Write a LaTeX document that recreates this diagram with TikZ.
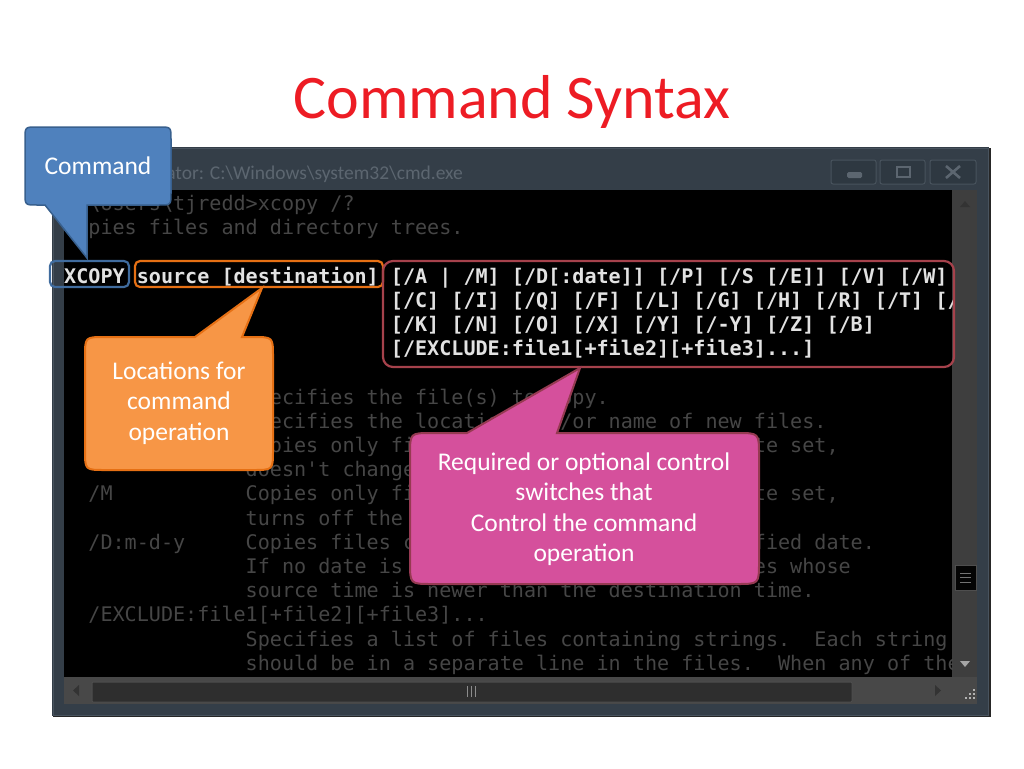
\documentclass[tikz,border=0pt]{standalone}
\usepackage{fontspec}
\setmainfont{Carlito}
\newfontfamily\consfont{DejaVu Sans Mono}
\definecolor{titlered}{RGB}{237,28,36}
\definecolor{framecol}{RGB}{52,62,72}
\definecolor{framehi}{RGB}{72,83,94}
\definecolor{titlegrey}{RGB}{92,102,112}
\definecolor{btnfill}{RGB}{46,56,65}
\definecolor{btnline}{RGB}{72,83,93}
\definecolor{btnicon}{RGB}{92,102,112}
\definecolor{scrollbg}{RGB}{62,62,62}
\definecolor{thumbcol}{RGB}{46,46,46}
\definecolor{thumbline}{RGB}{78,78,78}
\definecolor{dimtext}{RGB}{70,70,70}
\definecolor{britetext}{RGB}{226,226,226}
\definecolor{cblue}{RGB}{79,129,189}
\definecolor{cblueb}{RGB}{56,96,142}
\definecolor{hlblue}{RGB}{64,108,158}
\definecolor{corange}{RGB}{247,150,70}
\definecolor{coranged}{RGB}{230,112,20}
\definecolor{cmag}{RGB}{213,80,156}
\definecolor{cmagb}{RGB}{150,58,82}
\definecolor{swbox}{RGB}{166,66,76}
\newcommand\conline[5]{\node[#4] (#1) at ({64+12.1*#3},{210.4+24.2*(#2-1)}) {#5};}
\begin{document}
\begin{tikzpicture}[x=1pt,y=-1pt,
  dim/.style={anchor=base west, inner sep=0pt, text=dimtext, font=\consfont\fontsize{20.1}{24}\selectfont\frenchspacing},
  brite/.style={anchor=base west, inner sep=0pt, text=britetext, font=\consfont\bfseries\fontsize{20.1}{24}\selectfont\frenchspacing},
  callouttext/.style={text=white, align=center, inner sep=0pt, font=\fontsize{25.5}{30.5}\selectfont},
  hlbox/.style={line width=2.2pt, rounded corners=5pt},
  btn/.style={fill=btnfill, draw=btnline, line width=1pt, rounded corners=2pt}]
\useasboundingbox (0,0) rectangle (1024,768);
\fill[white] (0,0) rectangle (1024,768);
% title
\node[anchor=base, inner sep=0pt, text=titlered, font=\fontsize{62}{70}\selectfont] (title) at (512,118) {Command Syntax};
% window frame
\fill[black!85] (53,148) rectangle (991,717);
\fill[framecol] (52,147) rectangle (989,716);
\draw[framehi, line width=1pt] (53,148) rectangle (988,715);
\node[anchor=base east, inner sep=0pt, text=titlegrey, font=\fontsize{19.5}{22}\selectfont] (wintitle) at (463,179) {ator: C:\textbackslash Windows\textbackslash system32\textbackslash cmd.exe};
% title buttons
\draw[btn] (831,160) rectangle (876,184);
\draw[btn] (880,160) rectangle (925,184);
\draw[btn] (930,160) rectangle (976,184);
\fill[btnicon, rounded corners=1.5pt] (847,172) rectangle (862,178);
\draw[btnicon, line width=2pt] (897,167) rectangle (910,177);
\draw[btnicon, line width=2.6pt] (946,166) -- (960,178) (946,178) -- (960,166);
% console
\fill[black] (64,190) rectangle (952,677);
% vertical scrollbar
\fill[scrollbg] (952,190) rectangle (977,677);
\fill[black!80] (960,207) -- (970,207) -- (965,201) -- cycle;
\fill[black!35] (960,661) -- (970,661) -- (965,667) -- cycle;
\draw[thumbline, fill=thumbcol!120, line width=1pt] (955,565) rectangle (976,590);
\draw[black!55, line width=1pt] (960,573) -- (971,573) (960,577.5) -- (971,577.5) (960,582) -- (971,582);
% horizontal scrollbar
\fill[scrollbg!95] (64,677) rectangle (977,704);
\draw[thumbline, fill=thumbcol, line width=1pt, rounded corners=1pt] (92,682) rectangle (852,702);
\draw[black!45, line width=1pt] (467,686) -- (467,697) (471,686) -- (471,697) (475,686) -- (475,697);
\fill[black!80] (79,685) -- (79,696) -- (73,690.5) -- cycle;
\fill[black!80] (935,685) -- (935,696) -- (941,690.5) -- cycle;
\foreach \gx/\gy in {973/689, 969/693, 973/693, 965/697, 969/697, 973/697}
  \fill[black!30] (\gx,\gy) rectangle ++(2,2);
% console text
\begin{scope}
\clip (64,190) rectangle (952,677);
\conline{l1}{1}{0}{dim}{C:\textbackslash Users\textbackslash tjredd>xcopy /?}
\conline{l2}{2}{0}{dim}{Copies files and directory trees.}
\conline{l4a}{4}{0}{brite}{XCOPY}
\conline{l4b}{4}{6}{brite}{source [destination]}
\conline{l4c}{4}{27}{brite}{[/A | /M] [/D[:date]] [/P] [/S [/E]] [/V] [/W]}
\conline{l5}{5}{27}{brite}{[/C] [/I] [/Q] [/F] [/L] [/G] [/H] [/R] [/T] [/U]}
\conline{l6}{6}{27}{brite}{[/K] [/N] [/O] [/X] [/Y] [/-Y] [/Z] [/B]}
\conline{l7}{7}{27}{brite}{[/EXCLUDE:file1[+file2][+file3]...]}
\conline{l9}{9}{17}{dim}{ecifies the file(s) to copy.}
\conline{l10}{10}{17}{dim}{ecifies the location and/or name of new files.}
\conline{l11a}{11}{17}{dim}{pies only fi}
\conline{l11b}{11}{57}{dim}{te set,}
\conline{l12}{12}{15}{dim}{doesn\textquotesingle t change}
\conline{l13a}{13}{2}{dim}{/M}
\conline{l13b}{13}{15}{dim}{Copies only fi}
\conline{l13c}{13}{57}{dim}{te set,}
\conline{l14}{14}{15}{dim}{turns off the}
\conline{l15a}{15}{2}{dim}{/D:m-d-y}
\conline{l15b}{15}{15}{dim}{Copies files c}
\conline{l15c}{15}{57}{dim}{fied date.}
\conline{l16a}{16}{15}{dim}{If no date is}
\conline{l16b}{16}{57}{dim}{es whose}
\conline{l17}{17}{15}{dim}{source time is newer than the destination time.}
\conline{l18}{18}{2}{dim}{/EXCLUDE:file1[+file2][+file3]...}
\conline{l19a}{19}{15}{dim}{Specifies a list of files containing strings.}
\conline{l19b}{19}{62}{dim}{Each string}
\conline{l20a}{20}{15}{dim}{should be in a separate line in the files.}
\conline{l20b}{20}{59}{dim}{When any of the}
\end{scope}
% highlight boxes
\draw[hlbox, draw=hlblue] (50,261) rectangle (129,287);
\draw[hlbox, draw=coranged] (135,261) rectangle (383,287);
\draw[hlbox, draw=swbox, rounded corners=10pt] (383,261) rectangle (954,367);
% callouts
\filldraw[fill=cblue, draw=cblueb, line width=1.5pt]
  (37,127) -- (159,127) .. controls (171,127) .. (171,139) -- (171,193)
  .. controls (171,205) .. (159,205) -- (87,205) -- (87,258) -- (45,205) -- (37,205)
  .. controls (25,205) .. (25,193) -- (25,139) .. controls (25,127) .. (37,127) -- cycle;
\node[callouttext] (cmdlabel) at (98,166) {Command};
\filldraw[fill=corange, draw=coranged, line width=2pt]
  (105,337) -- (195,337) -- (262,288) -- (242,337) -- (253,337)
  .. controls (273,337) .. (273,357) -- (273,450) .. controls (273,470) .. (253,470)
  -- (105,470) .. controls (85,470) .. (85,450) -- (85,357) .. controls (85,337) .. (105,337) -- cycle;
\node[callouttext] (loclabel) at (179,403) {Locations for\\command\\operation};
\filldraw[fill=cmag, draw=cmagb, line width=2pt]
  (432,433) -- (467,433) -- (580,368) -- (557,433) -- (737,433)
  .. controls (759,433) .. (759,455) -- (759,562) .. controls (759,584) .. (737,584)
  -- (432,584) .. controls (410,584) .. (410,562) -- (410,455) .. controls (410,433) .. (432,433) -- cycle;
\node[callouttext] (swlabel) at (584,509) {Required or optional control\\switches that\\Control the command\\operation};
\end{tikzpicture}
\end{document}
